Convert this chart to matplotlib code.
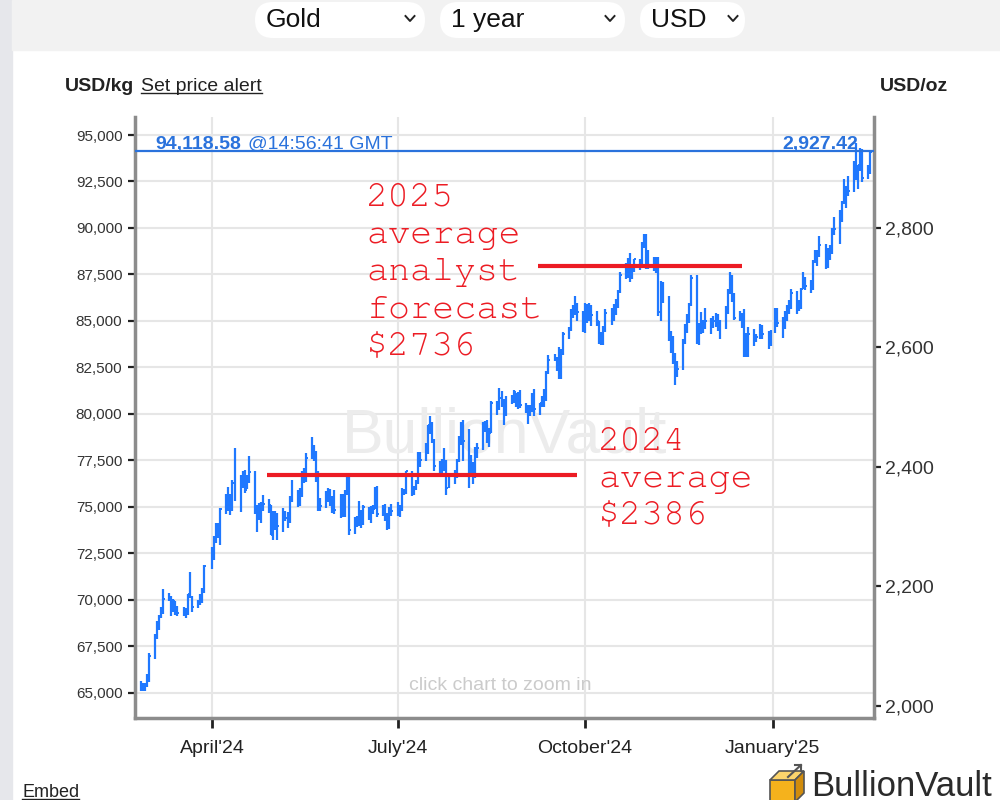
import matplotlib
matplotlib.use("Agg")
import matplotlib.pyplot as plt
import matplotlib.dates as mdates
from matplotlib.patches import FancyBboxPatch, Polygon, Rectangle
from matplotlib.ticker import FuncFormatter
import numpy as np
import pandas as pd

plt.rcParams["font.family"] = ["Liberation Sans", "DejaVu Sans"]
MONO = ["Courier New", "Nimbus Mono PS", "FreeMono", "Liberation Mono", "DejaVu Sans Mono"]

OZ_PER_KG = 32.1507466

# daily gold price, USD/oz, one line per month (26 Feb 2024 -> 18 Feb 2025)
highs = [
    2041, 2038, 2038, 2052,
    2088, 2119, 2141, 2152, 2165, 2195, 2189, 2184, 2179, 2175, 2167, 2165, 2163, 2187, 2223, 2183, 2176, 2186, 2196, 2236,
    2265, 2283, 2305, 2305, 2330, 2354, 2365, 2354, 2378, 2431, 2386, 2392, 2395, 2385, 2418, 2392, 2335, 2339, 2340, 2352, 2346, 2335,
    2326, 2326, 2323, 2331, 2326, 2324, 2351, 2378, 2361, 2364, 2392, 2398, 2422, 2450, 2436, 2426, 2392, 2347, 2359, 2364, 2363, 2351, 2361,
    2354, 2354, 2360, 2388, 2387, 2315, 2318, 2342, 2327, 2335, 2333, 2334, 2336, 2365, 2368, 2335, 2337, 2322, 2332, 2338,
    2340, 2335, 2364, 2363, 2393, 2393, 2368, 2378, 2425, 2424, 2440, 2469, 2484, 2474, 2446, 2410, 2412, 2431, 2411, 2390, 2394, 2413, 2451,
    2474, 2478, 2462, 2420, 2408, 2432, 2440, 2475, 2477, 2478, 2464, 2509, 2510, 2531, 2526, 2513, 2518, 2520, 2528, 2523, 2524, 2528,
    2506, 2503, 2503, 2523, 2529, 2507, 2518, 2529, 2560, 2586, 2589, 2584, 2600, 2597, 2625, 2633, 2664, 2670, 2685, 2674, 2660,
    2673, 2672, 2673, 2670, 2660, 2644, 2625, 2636, 2664, 2666, 2672, 2680, 2695, 2725, 2740, 2749, 2758, 2736, 2748, 2748, 2775, 2790, 2790,
    2763, 2750, 2750, 2750, 2711, 2709, 2685, 2627, 2618, 2590, 2576, 2613, 2639, 2656, 2674, 2721, 2721, 2641, 2658, 2645, 2665,
    2649, 2652, 2657, 2656, 2645, 2668, 2697, 2726, 2721, 2690, 2660, 2657, 2664, 2623, 2633, 2630, 2622, 2639, 2637, 2626, 2629,
    2665, 2665, 2650, 2660, 2670, 2678, 2697, 2693, 2679, 2699, 2725, 2718, 2712, 2746, 2763, 2762, 2786, 2772, 2765, 2770, 2800, 2817,
    2830, 2845, 2882, 2870, 2886, 2911, 2942, 2905, 2933, 2932, 2905, 2930,
]
lows = [
    2025, 2025, 2024, 2031,
    2039, 2078, 2111, 2126, 2146, 2153, 2175, 2150, 2156, 2152, 2150, 2150, 2146, 2151, 2180, 2157, 2163, 2168, 2172, 2189,
    2228, 2244, 2272, 2281, 2268, 2321, 2325, 2319, 2326, 2342, 2324, 2364, 2355, 2362, 2372, 2320, 2291, 2311, 2305, 2325, 2322, 2285,
    2277, 2293, 2277, 2291, 2308, 2297, 2306, 2341, 2332, 2334, 2349, 2373, 2374, 2412, 2410, 2374, 2326, 2325, 2331, 2340, 2334, 2322, 2320,
    2314, 2315, 2316, 2352, 2286, 2287, 2298, 2301, 2297, 2302, 2310, 2305, 2321, 2329, 2316, 2317, 2309, 2293, 2295, 2318,
    2318, 2315, 2326, 2352, 2354, 2350, 2352, 2361, 2370, 2400, 2410, 2421, 2454, 2440, 2392, 2384, 2385, 2393, 2353, 2364, 2370, 2380, 2408,
    2436, 2410, 2364, 2385, 2370, 2380, 2414, 2428, 2457, 2440, 2432, 2456, 2487, 2495, 2500, 2470, 2484, 2505, 2507, 2500, 2497, 2498,
    2490, 2471, 2484, 2491, 2485, 2487, 2500, 2500, 2509, 2555, 2576, 2560, 2547, 2546, 2586, 2613, 2627, 2649, 2654, 2643, 2625,
    2624, 2641, 2644, 2636, 2635, 2605, 2603, 2604, 2625, 2637, 2644, 2653, 2665, 2690, 2714, 2716, 2709, 2714, 2726, 2729, 2733, 2765, 2730,
    2730, 2728, 2724, 2652, 2643, 2673, 2610, 2590, 2572, 2537, 2550, 2562, 2605, 2623, 2640, 2668, 2605, 2603, 2621, 2624, 2631,
    2622, 2632, 2634, 2626, 2613, 2631, 2655, 2688, 2676, 2645, 2643, 2632, 2583, 2584, 2583, 2602, 2608, 2613, 2614, 2596, 2602,
    2624, 2633, 2615, 2630, 2643, 2655, 2664, 2656, 2660, 2664, 2697, 2695, 2690, 2696, 2741, 2735, 2751, 2730, 2733, 2745, 2755, 2788,
    2772, 2810, 2840, 2833, 2853, 2860, 2880, 2864, 2895, 2876, 2881, 2890,
]
closes = [
    2031, 2030, 2034, 2044,
    2083, 2114, 2128, 2148, 2160, 2179, 2182, 2158, 2175, 2162, 2155, 2160, 2157, 2186, 2181, 2165, 2171, 2179, 2194, 2233,
    2250, 2280, 2300, 2291, 2329, 2339, 2352, 2333, 2372, 2344, 2383, 2383, 2361, 2379, 2391, 2327, 2322, 2316, 2332, 2337, 2335, 2286,
    2320, 2303, 2301, 2324, 2314, 2309, 2346, 2360, 2336, 2358, 2386, 2376, 2415, 2425, 2421, 2379, 2329, 2334, 2351, 2361, 2338, 2343, 2327,
    2350, 2327, 2355, 2375, 2294, 2311, 2316, 2324, 2303, 2333, 2319, 2330, 2329, 2360, 2321, 2334, 2319, 2298, 2327, 2326,
    2332, 2330, 2356, 2356, 2392, 2359, 2364, 2372, 2415, 2411, 2422, 2469, 2459, 2445, 2401, 2396, 2409, 2398, 2364, 2387, 2384, 2410, 2447,
    2446, 2443, 2410, 2390, 2383, 2427, 2431, 2472, 2465, 2447, 2456, 2507, 2504, 2514, 2512, 2484, 2512, 2518, 2525, 2504, 2521, 2503,
    2500, 2493, 2495, 2516, 2497, 2506, 2516, 2512, 2558, 2578, 2582, 2570, 2559, 2587, 2622, 2628, 2657, 2657, 2672, 2658, 2634,
    2663, 2657, 2656, 2653, 2643, 2622, 2608, 2631, 2657, 2649, 2662, 2674, 2693, 2721, 2720, 2748, 2717, 2736, 2747, 2743, 2774, 2788, 2744,
    2736, 2736, 2743, 2659, 2706, 2684, 2619, 2598, 2573, 2565, 2563, 2612, 2631, 2650, 2670, 2715, 2626, 2632, 2636, 2640, 2643,
    2640, 2643, 2650, 2632, 2633, 2660, 2695, 2718, 2680, 2648, 2652, 2646, 2587, 2595, 2622, 2613, 2617, 2634, 2621, 2606, 2624,
    2658, 2640, 2636, 2649, 2662, 2670, 2690, 2663, 2677, 2697, 2714, 2702, 2708, 2744, 2755, 2753, 2770, 2740, 2763, 2760, 2794, 2798,
    2815, 2842, 2867, 2856, 2861, 2908, 2898, 2905, 2929, 2883, 2898, 2927,
]
no_trading = ["2024-03-29", "2024-12-25", "2025-01-01"]

latest_kg = 94118.58
latest_oz = 2927.42
latest_time = "@14:56:41 GMT"

avg_2024 = 2386
forecast_2025 = 2736
avg_2024_span = ["2024-04-28", "2024-09-27"]
forecast_span = ["2024-09-08", "2024-12-17"]

kg_ticks = list(range(65000, 95001, 2500))
oz_ticks = [2000, 2200, 2400, 2600, 2800]
month_ticks = ["2024-04-01", "2024-07-01", "2024-10-01", "2025-01-01"]
month_labels = ["April'24", "July'24", "October'24", "January'25"]
menus = ["Gold", "1 year", "USD"]

BAR = "#1f78ff"
PRICE = "#2a72dc"
RED = "#ec1c24"

days = pd.bdate_range("2024-02-26", "2025-02-18")
days = days[~days.isin(pd.to_datetime(no_trading))]
x = mdates.date2num(days)
hi = np.array(highs) * OZ_PER_KG
lo = np.array(lows) * OZ_PER_KG
cl = np.array(closes) * OZ_PER_KG

fig = plt.figure(figsize=(10, 8), dpi=100)
fig.patch.set_facecolor("white")

# page background in pixel units (y down)
bg = fig.add_axes([0, 0, 1, 1])
bg.set_xlim(0, 1000)
bg.set_ylim(800, 0)
bg.axis("off")
pix = bg.transData

bg.add_patch(Rectangle((0, 0), 12, 800, color="#e6e7eb", zorder=0))
bg.add_patch(Rectangle((12, 0), 988, 50, color="#f2f2f2", zorder=0))
for (x0, x1, chev), label in zip([(255, 425, 410), (440, 625, 610), (640, 745, 733)], menus):
    bg.add_patch(FancyBboxPatch((x0, 2), x1 - x0, 36,
                                boxstyle="round,pad=0,rounding_size=18",
                                fc="white", ec="none", zorder=1))
    bg.text(x0 + 11, 20, label, fontsize=19, color="#111111", va="center", ha="left", zorder=2)
    bg.plot([chev - 4.5, chev, chev + 4.5], [16, 21, 16], color="#222222", lw=1.4, zorder=2)

bg.text(65, 91, "USD/kg", fontsize=14, fontweight="bold", color="#222222")
t_alert = bg.text(141, 91, "Set price alert", fontsize=14, color="#222222")
bg.text(948, 91, "USD/oz", fontsize=14, fontweight="bold", color="#222222", ha="right")
t_embed = bg.text(22, 797, "Embed", fontsize=13, color="#222222")

# logo
bg.add_patch(Polygon([(770, 780), (795, 780), (795, 802), (770, 802)], closed=True,
                     fc="#f5b21c", ec="#555555", lw=1.2, zorder=2))
bg.add_patch(Polygon([(770, 780), (779, 771), (804, 771), (795, 780)], closed=True,
                     fc="#fbd46c", ec="#555555", lw=1.2, zorder=2))
bg.add_patch(Polygon([(795, 780), (804, 771), (804, 793), (795, 802)], closed=True,
                     fc="#d18c0c", ec="#555555", lw=1.2, zorder=2))
bg.plot([788, 801], [777, 765], color="#555555", lw=1.5, zorder=3)
bg.plot([795, 801, 801], [765, 765, 771], color="#555555", lw=1.5, zorder=3)
bg.text(811, 796, "BullionVault", fontsize=25, color="#2b2b2b", zorder=3)

# chart
ax = fig.add_axes([0.135, 0.1025, 0.739, 0.75125])
ax.set_zorder(1)
ax.set_facecolor("white")

ax.vlines(x, lo, hi, color=BAR, lw=1.6, zorder=3)
ax.hlines(cl, x, x + 0.9, color=BAR, lw=1.4, zorder=3)

ax.axhline(latest_kg, color=PRICE, lw=1.6, zorder=4)
ax.hlines(avg_2024 * OZ_PER_KG, *mdates.date2num(pd.to_datetime(avg_2024_span)), color=RED, lw=3, zorder=5)
ax.hlines(forecast_2025 * OZ_PER_KG, *mdates.date2num(pd.to_datetime(forecast_span)), color=RED, lw=3, zorder=5)

ax.set_xlim(mdates.date2num(pd.Timestamp("2024-02-23 04:00")), mdates.date2num(pd.Timestamp("2025-02-19 18:00")))
ax.set_ylim(63630, 95970)

ax.set_yticks(kg_ticks)
ax.yaxis.set_major_formatter(FuncFormatter(lambda v, p: f"{v:,.0f}"))
ax.set_xticks(mdates.date2num(pd.to_datetime(month_ticks)))
ax.set_xticklabels(month_labels)
ax.tick_params(axis="y", direction="out", length=5, width=1.6, color="#222222",
               labelsize=11, labelcolor="#333333", pad=4)
ax.tick_params(axis="x", direction="out", length=7, width=2, color="#222222",
               labelsize=14, labelcolor="#222222", pad=9)
ax.grid(True, color="#e6e6e6", lw=1.5)
ax.set_axisbelow(True)
for s in ["left", "bottom", "right"]:
    ax.spines[s].set_color("#8c8c8c")
    ax.spines[s].set_linewidth(2.5)
ax.spines["top"].set_visible(False)

sec = ax.secondary_yaxis("right", functions=(lambda v: v / OZ_PER_KG, lambda v: v * OZ_PER_KG))
sec.set_yticks(oz_ticks)
sec.yaxis.set_major_formatter(FuncFormatter(lambda v, p: f"{v:,.0f}"))
sec.tick_params(direction="out", length=5, width=1.6, color="#222222",
                labelsize=14, labelcolor="#333333", pad=3)
sec.spines["right"].set_visible(False)

# watermark and hints
ax.text(0.5, 0.469, "BullionVault", transform=ax.transAxes, fontsize=45, color="#ececec",
        ha="center", va="center", zorder=1)
ax.text(500, 686, "click chart to zoom in", transform=pix, fontsize=14, color="#cbcbcb",
        ha="center", va="center", zorder=1)

# live price labels
ax.text(155, 149, f"{latest_kg:,.2f}", transform=pix, fontsize=14, fontweight="bold",
        color=PRICE, zorder=6)
ax.text(248, 149, latest_time, transform=pix, fontsize=14, color=PRICE, zorder=6)
ax.text(858, 149, f"{latest_oz:,.2f}", transform=pix, fontsize=14, fontweight="bold",
        color=PRICE, ha="right", zorder=6)

# analyst annotations
for i, line in enumerate(["2025", "average", "analyst", "forecast", f"${forecast_2025}"]):
    ax.text(366, 205 + i * 37.5, line, transform=pix, family=MONO, fontsize=26.5,
            color=RED, zorder=6)
for i, line in enumerate(["2024", "average", f"${avg_2024}"]):
    ax.text(598, 450 + i * 37, line, transform=pix, family=MONO, fontsize=26.5,
            color=RED, zorder=6)

# underlined links
fig.canvas.draw()
inv = pix.inverted()
for t in [t_alert, t_embed]:
    bb = t.get_window_extent()
    (xa, _), (xb, _) = inv.transform([(bb.x0, bb.y0), (bb.x1, bb.y0)])
    yb = t.get_position()[1] + 2
    bg.plot([xa, xb], [yb, yb], color="#222222", lw=1)

fig.savefig("out.png", dpi=100)
